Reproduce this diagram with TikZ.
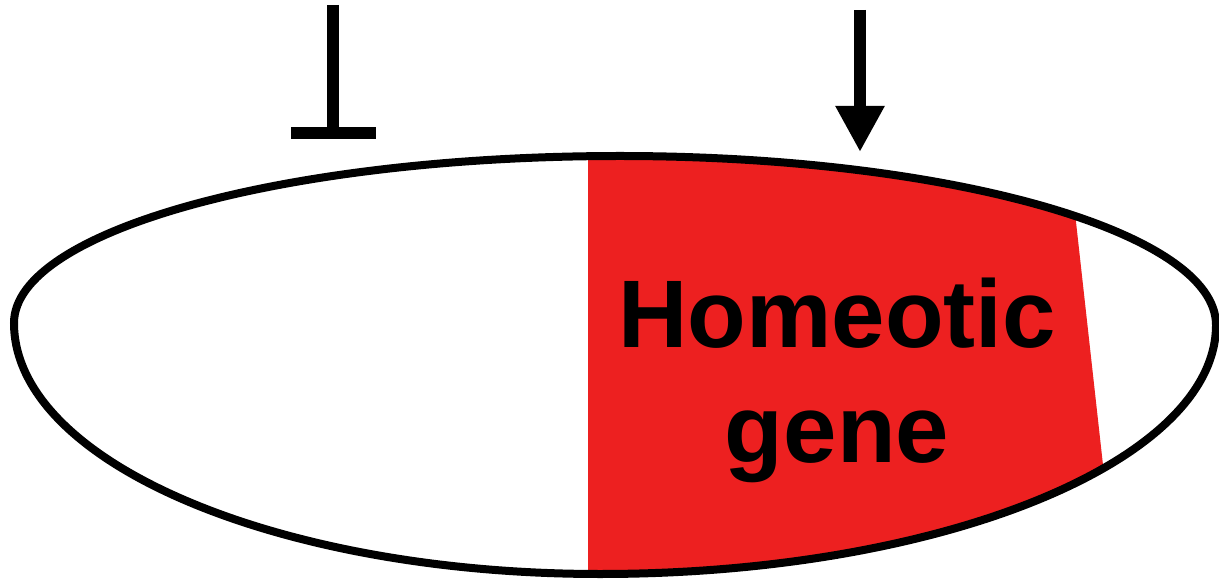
\documentclass[tikz,border=0pt]{standalone}
\usepackage{fontspec}
\setmainfont{Liberation Sans}
\usetikzlibrary{arrows.meta}
\definecolor{hoxred}{RGB}{237,32,32}
\tikzset{embryo/.style={line width=6pt},
    signal/.style={line width=9pt}}
\begin{document}
\begin{tikzpicture}[x=0.75pt,y=-0.75pt]
                \useasboundingbox(0,0)rectangle(1219,580);
                \def\embryopath{(14,323).. controls (14,231) and (285,156) ..(620,156).. controls (949,156) and (1216,232) ..(1216,325).. controls (1216,462) and (940,574) ..(600,574).. controls (277,574) and (14,462) ..(14,323)--cycle}
                \begin{scope}
                \clip\embryopath;
                \fill[hoxred](588,100)--(1068,150)--(1103,465)--(1103,600)--(588,600)--cycle;
                \end{scope}
                \draw[embryo]\embryopath;
                \node[font=\bfseries\fontsize{72}{86.4}\selectfont,align=center](hox)at(837,380){Homeotic\\gene};
                \coordinate(repA)at(333,5);\coordinate(repB)at(333,139);
                \draw[signal,-{Bar[width=63.75pt]}](repA)--(repB);
                \coordinate(actA)at(860,10);\coordinate(actB)at(860,152);
                \draw[signal,-{Triangle[length=34.5pt,width=34.5pt]}](actA)--(actB);
            \end{tikzpicture}
\end{document}
